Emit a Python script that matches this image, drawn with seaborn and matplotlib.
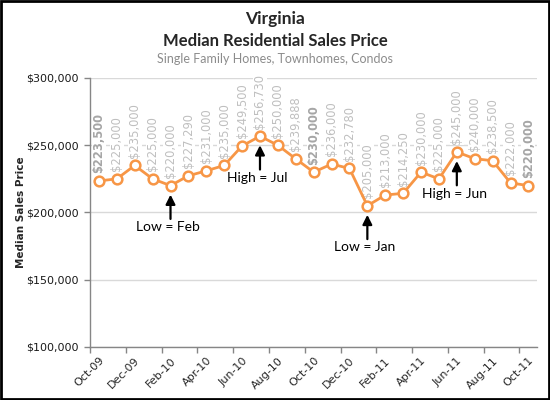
import numpy as np
import pandas as pd
import seaborn as sns
import matplotlib
matplotlib.use("Agg")
import matplotlib.pyplot as plt
from matplotlib.patches import Rectangle
from matplotlib.ticker import FuncFormatter, FixedLocator

months = ["Oct-09", "Nov-09", "Dec-09", "Jan-10", "Feb-10", "Mar-10", "Apr-10",
          "May-10", "Jun-10", "Jul-10", "Aug-10", "Sep-10", "Oct-10", "Nov-10",
          "Dec-10", "Jan-11", "Feb-11", "Mar-11", "Apr-11", "May-11", "Jun-11",
          "Jul-11", "Aug-11", "Sep-11", "Oct-11"]
prices = [223500, 225000, 235000, 225000, 220000, 227290, 231000, 235000,
          249500, 256730, 250000, 239888, 230000, 236000, 232780, 205000,
          213000, 214250, 230000, 225000, 245000, 240000, 238500, 222000,
          220000]
bold_labels = ["Oct-09", "Oct-10", "Oct-11"]
notes = {"Feb-10": "Low = Feb", "Jul-10": "High = Jul",
         "Jan-11": "Low = Jan", "Jun-11": "High = Jun"}
yticks = [100000, 150000, 200000, 250000, 300000]

df = pd.DataFrame({"month": months, "price": prices})
df["idx"] = np.arange(len(df))

sns.set_style("white")
plt.rcParams["font.family"] = ["DejaVu Sans"]

fig = plt.figure(figsize=(5.5, 4), dpi=100)
ax = fig.add_axes([0.1636, 0.1325, 0.977 - 0.1636, 0.805 - 0.1325])

orange = "#F79646"
sns.lineplot(data=df, x="idx", y="price", ax=ax, color=orange, lw=2,
             marker="o", markersize=7, markerfacecolor="white",
             markeredgecolor=orange, markeredgewidth=1.8, zorder=5)

ax.set_xlim(-0.5, len(months) - 0.5)
ax.set_ylim(100000, 300000)
ax.set_yticks(yticks)
ax.yaxis.set_major_formatter(FuncFormatter(lambda v, p: f"${v:,.0f}"))
ax.grid(axis="y", color="#D9D9D9", lw=1, zorder=0)
ax.set_axisbelow(True)

ax.set_xticks(df["idx"][::2])
ax.set_xticklabels(df["month"][::2], rotation=45, ha="right",
                   rotation_mode="anchor", fontsize=8)
ax.xaxis.set_minor_locator(FixedLocator(np.arange(-0.5, len(months) - 1, 2)))
ax.tick_params(axis="x", which="major", length=0, pad=6)
ax.tick_params(axis="x", which="minor", length=4, color="#868686", width=1,
               direction="out", bottom=True)
ax.tick_params(axis="y", length=4, color="#868686", width=1, direction="out",
               left=True, labelsize=8, pad=4)
for lab in ax.get_yticklabels():
    lab.set_color("#1a1a1a")

for s in ["top", "right"]:
    ax.spines[s].set_visible(False)
for s in ["left", "bottom"]:
    ax.spines[s].set_color("#868686")
    ax.spines[s].set_linewidth(1)

ax.set_xlabel("")
ax.set_ylabel("Median Sales Price", fontsize=7.5, fontweight="bold")
ax.yaxis.set_label_coords(-0.143, 0.5)

for i, (m, v) in enumerate(zip(months, prices)):
    b = m in bold_labels
    ax.annotate(f"${v:,.0f}", xy=(i, v), xytext=(0, 5.5),
                textcoords="offset points", rotation=90, ha="center",
                va="bottom", fontsize=8.3,
                fontweight="bold" if b else "normal",
                color="#A6A6A6" if b else "#BFBFBF",
                bbox=dict(boxstyle="square,pad=0.05", fc="white", ec="none"),
                zorder=3)

for i, (m, v) in enumerate(zip(months, prices)):
    if m in notes:
        ax.annotate("", xy=(i, v), xytext=(0, -24),
                    textcoords="offset points",
                    arrowprops=dict(arrowstyle="-|>", color="black", lw=1.6,
                                    shrinkA=0, shrinkB=6.5,
                                    mutation_scale=14))
        ax.annotate(notes[m], xy=(i, v), xytext=(-2, -30),
                    textcoords="offset points", ha="center", va="center",
                    fontsize=10, color="black", family="Lato")

fig.text(0.5, 1 - 19 / 400, "Virginia", ha="center", va="center",
         fontsize=12.5, fontweight="bold", family="Lato")
fig.text(0.5, 1 - 40.5 / 400, "Median Residential Sales Price", ha="center",
         va="center", fontsize=12, fontweight="bold", family="Lato")
fig.text(0.5, 1 - 59 / 400, "Single Family Homes, Townhomes, Condos",
         ha="center", va="center", fontsize=9, color="#8C8C8C",
         family="Lato")

fig.patches.append(Rectangle((0.002, 0.003), 0.996, 0.994,
                             transform=fig.transFigure, fill=False,
                             ec="black", lw=2))

fig.savefig("out.png", dpi=100)
